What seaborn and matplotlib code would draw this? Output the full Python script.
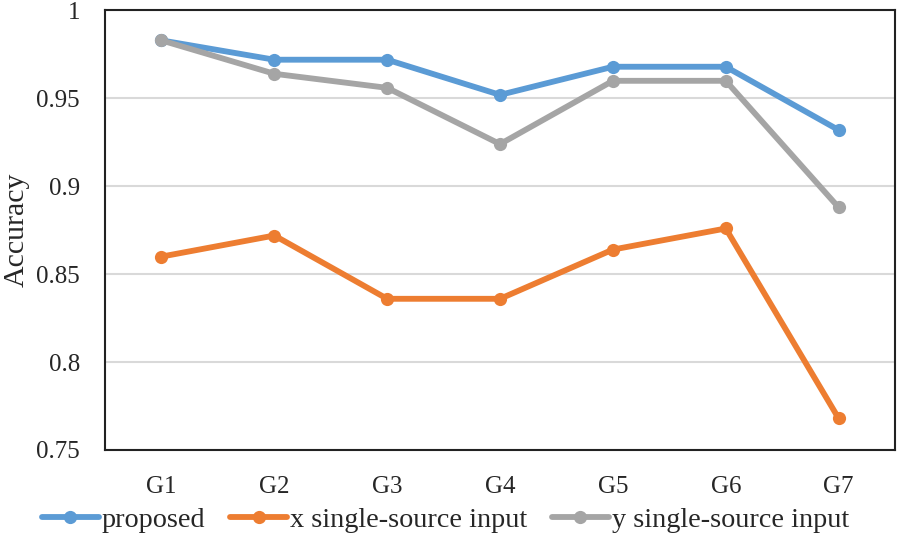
import matplotlib
matplotlib.use("Agg")
import matplotlib.pyplot as plt
import seaborn as sns
import pandas as pd

groups = ["G1", "G2", "G3", "G4", "G5", "G6", "G7"]
proposed = [0.983, 0.972, 0.972, 0.952, 0.968, 0.968, 0.932]
x_single = [0.860, 0.872, 0.836, 0.836, 0.864, 0.876, 0.768]
y_single = [0.983, 0.964, 0.956, 0.924, 0.960, 0.960, 0.888]
series_names = ["proposed", "x single-source input", "y single-source input"]
y_ticks = [0.75, 0.8, 0.85, 0.9, 0.95, 1.0]
y_tick_labels = ["0.75", "0.8", "0.85", "0.9", "0.95", "1"]


def build_frame():
    rows = []
    for name, vals in zip(series_names, [proposed, x_single, y_single]):
        for g, v in zip(groups, vals):
            rows.append({"group": g, "accuracy": v, "series": name})
    return pd.DataFrame(rows)


def plot_accuracy(df):
    sns.set_style("white")
    plt.rcParams["font.family"] = ["Liberation Serif", "DejaVu Serif"]

    fig = plt.figure(figsize=(9, 5.38), dpi=100)
    ax = fig.add_axes([0.1167, 0.1636, 0.8778, 0.8169])

    palette = {"proposed": "#5B9BD5",
               "x single-source input": "#ED7D31",
               "y single-source input": "#A5A5A5"}
    sns.lineplot(data=df, x="group", y="accuracy", hue="series",
                 hue_order=series_names, palette=palette,
                 marker="o", markersize=9.5, markeredgewidth=0,
                 linewidth=4.2, ax=ax, sort=False, zorder=3)

    ax.set_ylim(0.75, 1.0)
    ax.set_xlim(-0.5, 6.5)
    ax.set_yticks(y_ticks)
    ax.set_yticklabels(y_tick_labels)
    ax.yaxis.grid(True, color="#D9D9D9", linewidth=1.5, zorder=0)
    ax.xaxis.grid(False)
    ax.tick_params(axis="both", length=0, labelsize=18)
    ax.tick_params(axis="y", pad=18)
    ax.tick_params(axis="x", pad=19)
    for s in ax.spines.values():
        s.set_visible(True)
        s.set_color("#222222")
        s.set_linewidth(1.5)

    ax.set_xlabel("")
    ax.set_ylabel("Accuracy", fontsize=21.5, labelpad=0)
    ax.yaxis.set_label_coords(-0.095, 0.5)

    handles, labels = ax.get_legend_handles_labels()
    ax.legend_.remove()
    fig.legend(handles, labels, loc="center", bbox_to_anchor=(0.495, 0.034),
               ncol=3, frameon=False, fontsize=20.3, handlelength=2.0,
               handletextpad=0.1, columnspacing=0.9)

    fig.savefig("out.png", dpi=100)
    plt.close(fig)


plot_accuracy(build_frame())
